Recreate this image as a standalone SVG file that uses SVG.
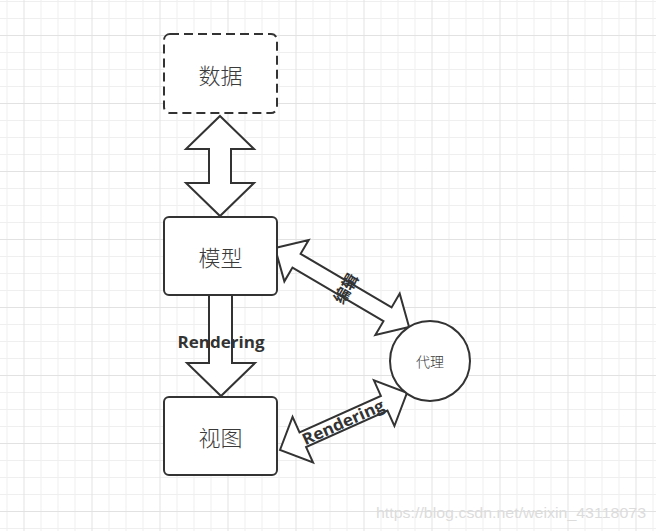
<svg xmlns="http://www.w3.org/2000/svg" width="656" height="531" viewBox="0 0 656 531">
<defs>
<pattern id="grid" patternUnits="userSpaceOnUse" x="23.5" y="35" width="68" height="68">
<path d="M17.5 0V68M34.5 0V68M51.5 0V68M0 17.5H68M0 34.5H68M0 51.5H68" stroke="#efefef" stroke-width="1" fill="none"/>
<path d="M0.5 0V68M0 0.5H68" stroke="#e2e2e2" stroke-width="1" fill="none"/>
</pattern>
<style>
.box{fill:#fff;stroke:#333;stroke-width:2}
.arrow{fill:#fff;stroke:#333;stroke-width:2;stroke-linejoin:miter}
.lbl{font-family:"Noto Sans CJK SC","Noto Sans",sans-serif;font-weight:300;fill:#3a3a3a;text-anchor:middle;dominant-baseline:central}
.bold{font-family:"Open Sans","Noto Sans CJK SC",sans-serif;font-weight:bold;font-size:16px;fill:#333;text-anchor:middle;dominant-baseline:central}
</style>
</defs>
<rect width="656" height="531" fill="#fff"/>
<rect width="656" height="531" fill="url(#grid)"/>
<g id="connectors">
<polygon class="arrow" points="220,116 254,149 231,149 231,183 254,183 220,216 186,183 209,183 209,149 186,149"/>
<polygon class="arrow" points="209,295 232,295 232,363 255,363 221,396 187,363 209,363"/>
<polygon class="arrow" transform="translate(275,248) rotate(30.5)" points="0,0 25,-24 25,-8 130.6,-8 130.6,-24 155.6,0 130.6,24 130.6,8 25,8 25,24"/>
<polygon class="arrow" transform="translate(280,450) rotate(-24.2)" points="0,0 25,-25 25,-8 114.2,-8 114.2,-25 139.2,0 114.2,25 114.2,8 25,8 25,25"/>
<text class="bold" x="221" y="342" textLength="87" lengthAdjust="spacingAndGlyphs">Rendering</text>
<text class="bold" transform="translate(345,288) rotate(-59.5)" style="font-family:'Noto Sans CJK SC',sans-serif">编辑</text>
<text class="bold" transform="translate(343,422) rotate(-24.2)" textLength="88" lengthAdjust="spacingAndGlyphs">Rendering</text>
</g>
<g id="data">
<rect class="box" x="164" y="34" width="113" height="79" rx="6" stroke-dasharray="9,5"/>
<text class="lbl" x="220.5" y="73.5" font-size="22">数据</text>
</g>
<g id="model">
<rect class="box" x="164" y="217" width="113" height="78" rx="5"/>
<text class="lbl" x="220.5" y="256" font-size="22">模型</text>
</g>
<g id="view">
<rect class="box" x="164" y="397" width="113" height="78" rx="5"/>
<text class="lbl" x="220.5" y="436" font-size="22">视图</text>
</g>
<g id="agent">
<circle class="box" cx="430" cy="361" r="40"/>
<text class="lbl" x="430" y="361" font-size="14">代理</text>
</g>
<text x="376" y="518" font-family="Liberation Sans, Arial, sans-serif" font-size="15" fill="#dcdcdc" textLength="270" lengthAdjust="spacingAndGlyphs">https://blog.csdn.net/weixin_43118073</text>
</svg>
